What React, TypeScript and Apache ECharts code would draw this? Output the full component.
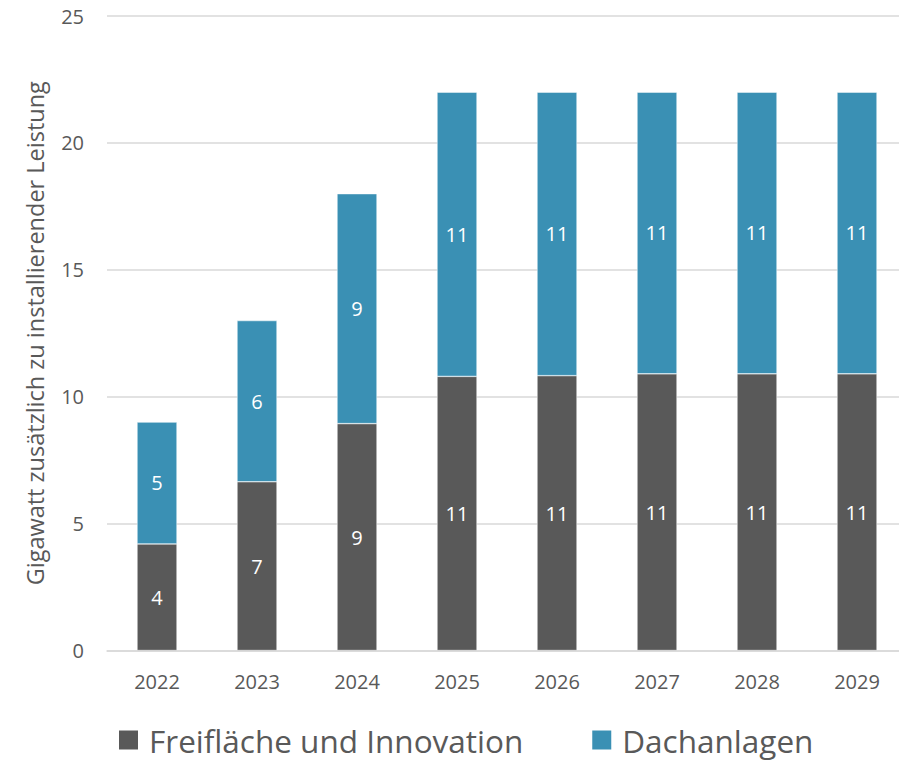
import React, { useEffect, useRef } from "react";
import * as echarts from "echarts";

const categories = ["2022", "2023", "2024", "2025", "2026", "2027", "2028", "2029"];
const freiflaeche = [4.2, 6.65, 8.94, 10.8, 10.83, 10.9, 10.9, 10.9];
const dachanlagen = [4.8, 6.35, 9.06, 11.2, 11.17, 11.1, 11.1, 11.1];
const seriesNames = ["Freifläche und Innovation", "Dachanlagen"];
const yAxisName = "Gigawatt zusätzlich zu installierender Leistung";

const FONT = "'Open Sans', 'Noto Sans', sans-serif";

export default function App() {
  const ref = useRef<HTMLDivElement>(null);
  useEffect(() => {
    if (!ref.current) return;
    const chart = echarts.init(ref.current, null, { renderer: "svg" });
    const label = {
      show: true,
      position: "inside",
      color: "#ffffff",
      fontSize: 20,
      fontFamily: FONT,
      formatter: (p: any) => String(Math.round(p.value)),
    };
    chart.setOption({
      animation: false,
      textStyle: { fontFamily: FONT },
      grid: {
        left: 107,
        right: 8,
        top: 16,
        bottom: 110.5,
        containLabel: false,
        outerBoundsMode: "none",
      },
      legend: {
        left: 117,
        top: 724,
        padding: 0,
        itemWidth: 21,
        itemHeight: 21,
        itemGap: 67,
        icon: "rect",
        textStyle: {
          fontSize: 31.5,
          lineHeight: 30,
          color: "#595959",
          fontFamily: FONT,
          padding: [0, 0, 0, 5],
        },
        data: seriesNames,
      },
      xAxis: {
        type: "category",
        data: categories,
        axisLine: { show: true, lineStyle: { color: "#D9D9D9", width: 1.5 } },
        axisTick: { show: false },
        axisLabel: { color: "#595959", fontSize: 20, margin: 21, fontFamily: FONT },
      },
      yAxis: {
        type: "value",
        min: 0,
        max: 25,
        interval: 5,
        name: yAxisName,
        nameLocation: "middle",
        nameGap: 60,
        nameTextStyle: {
          color: "#595959",
          fontSize: 23.5,
          fontFamily: FONT,
          width: 800,
          overflow: "none",
        },
        axisLine: { show: false },
        axisTick: { show: false },
        axisLabel: { color: "#595959", fontSize: 20, margin: 23, fontFamily: FONT },
        splitLine: { lineStyle: { color: "#D9D9D9", width: 1.5 } },
      },
      series: [
        {
          name: seriesNames[0],
          type: "bar",
          stack: "total",
          data: freiflaeche,
          barWidth: 40,
          itemStyle: { color: "#595959", borderColor: "#ffffff", borderWidth: 0.5 },
          label,
        },
        {
          name: seriesNames[1],
          type: "bar",
          stack: "total",
          data: dachanlagen,
          barWidth: 40,
          itemStyle: { color: "#3A90B4", borderColor: "#ffffff", borderWidth: 0.5 },
          label,
        },
      ],
    });
    return () => chart.dispose();
  }, []);
  return (
    <div
      ref={ref}
      style={{ position: "fixed", left: 0, top: 0, width: 915, height: 761, background: "#fff" }}
    />
  );
}
